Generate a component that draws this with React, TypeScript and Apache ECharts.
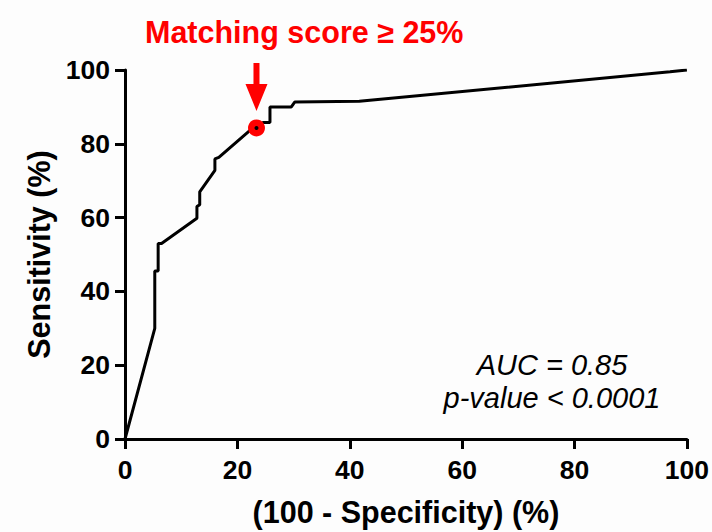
import React, { useEffect, useRef } from "react";
import * as echarts from "echarts";

// ROC curve: (100 - Specificity) % vs Sensitivity %
const falsePositive = [0, 5.3, 5.3, 5.9, 5.9, 6.5, 12.8, 12.8, 13.3, 13.3, 16.0, 16.0, 16.7, 22.5, 23.4, 24.6, 25.8, 25.8, 29.6, 30.2, 41.7, 97.0, 100];
const sensitivity = [0, 30.0, 45.5, 45.5, 53.0, 53.0, 59.8, 63.0, 63.5, 67.0, 72.8, 75.9, 76.3, 84.0, 84.3, 85.8, 85.8, 90.0, 90.0, 91.3, 91.5, 99.5, 100];
const cutoff = [23.4, 84.3];
const titleText = "Matching score \u2265 25%";
const statLines = ["AUC = 0.85", "p-value < 0.0001"];
const xAxisTitle = "(100 - Specificity) (%)";
const yAxisTitle = "Sensitivity (%)";

const FONT = "'Liberation Sans', Arial, sans-serif";

export default function App() {
  const ref = useRef<HTMLDivElement>(null);
  useEffect(() => {
    const chart = echarts.init(ref.current!, null, { renderer: "svg" });
    const curve = falsePositive.map((x, i) => [x, sensitivity[i]]);
    const axisCommon = {
      type: "value",
      min: 0,
      max: 100,
      interval: 20,
      splitLine: { show: false },
      axisLine: { show: true, lineStyle: { color: "#000", width: 3 } },
      axisTick: { show: true, length: 10, lineStyle: { color: "#000", width: 3 } },
      axisLabel: { color: "#000", fontSize: 26.5, fontWeight: "bold", fontFamily: FONT },
      nameLocation: "middle",
      nameTextStyle: { color: "#000", fontSize: 30.5, fontWeight: "bold", fontFamily: FONT },
    };
    chart.setOption({
      animation: false,
      backgroundColor: "#fdfdfd",
      title: {
        text: titleText,
        left: 140,
        top: 11,
        textStyle: { color: "#ff0000", fontSize: 30.5, fontWeight: "bold", fontFamily: FONT },
      },
      grid: { left: 125, right: 24, top: 70, bottom: 89, containLabel: false },
      xAxis: { ...axisCommon, name: xAxisTitle, nameGap: 57, axisLabel: { ...axisCommon.axisLabel, margin: 17 } },
      yAxis: { ...axisCommon, name: yAxisTitle, nameGap: 71, axisLabel: { ...axisCommon.axisLabel, margin: 15 } },
      series: [
        {
          type: "line",
          data: curve,
          showSymbol: false,
          symbol: "none",
          lineStyle: { color: "#000", width: 3 },
          z: 2,
        },
        {
          type: "scatter",
          data: [cutoff],
          symbolSize: 17,
          itemStyle: { color: "#ff0000", opacity: 1 },
          z: 3,
        },
        {
          type: "scatter",
          data: [cutoff],
          symbolSize: 4,
          itemStyle: { color: "#000", opacity: 1 },
          z: 4,
        },
      ],
    });
    const [px, py] = chart.convertToPixel({ gridIndex: 0 }, cutoff) as number[];
    chart.setOption({
      graphic: [
        {
          type: "polygon",
          shape: {
            points: [
              [px - 3, py - 65],
              [px + 3, py - 65],
              [px + 3, py - 44],
              [px + 11, py - 44],
              [px, py - 17],
              [px - 11, py - 44],
              [px - 3, py - 44],
            ],
          },
          style: { fill: "#ff0000" },
        },
        {
          type: "text",
          x: 552,
          y: 365,
          style: {
            text: statLines[0],
            fill: "#000",
            font: `italic 29px ${FONT}`,
            textAlign: "center",
            textVerticalAlign: "middle",
          },
        },
        {
          type: "text",
          x: 552,
          y: 398,
          style: {
            text: statLines[1],
            fill: "#000",
            font: `italic 29px ${FONT}`,
            textAlign: "center",
            textVerticalAlign: "middle",
          },
        },
      ],
    });
    return () => chart.dispose();
  }, []);
  return <div ref={ref} style={{ position: "fixed", left: 0, top: 0, width: 712, height: 532 }} />;
}
